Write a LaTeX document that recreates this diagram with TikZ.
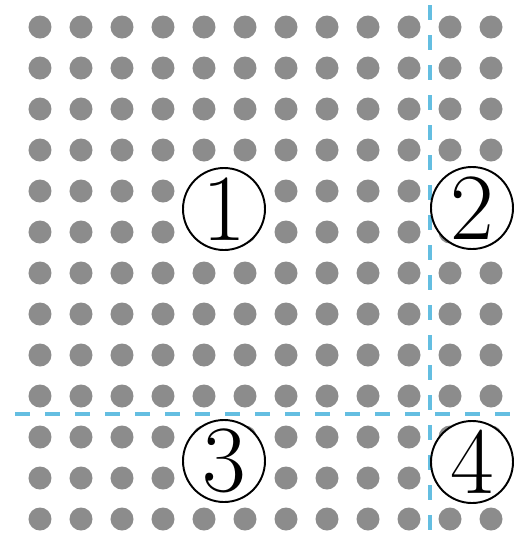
\documentclass[tikz,border=0pt]{standalone}
\usepackage{tikz}
\definecolor{dotgray}{RGB}{140,140,140}
\definecolor{cutblue}{RGB}{100,190,225}
\tikzset{
  numcirc/.style={circle,draw=black,line width=0.55pt,fill=white,minimum size=0.82cm,inner sep=0pt,font=\fontsize{27}{27}\selectfont},
  cutline/.style={draw=cutblue,line width=1.2pt,dash pattern=on 0.15cm off 0.15cm}
}
\begin{document}
\begin{tikzpicture}[line cap=butt,line join=round]
  \useasboundingbox (0,0) rectangle (5.18,-5.42);
  % dot grid, 12 columns x 13 rows
  \foreach \i in {0,...,11}
    \foreach \j in {0,...,12}
      \fill[dotgray] (0.40+0.41*\i,-0.27-0.41*\j) circle (0.115);
  % cut lines
  \coordinate (vtop) at (4.30,-0.05);
  \coordinate (vbot) at (4.30,-5.42);
  \coordinate (hleft) at (0.15,-4.14);
  \coordinate (hright) at (5.18,-4.14);
  \draw[cutline] (vtop) -- (vbot);
  \draw[cutline] (hleft) -- (hright);
  % circled parts
  \node[numcirc] (p1) at (2.24,-2.09) {1};
  \node[numcirc] (p2) at (4.72,-2.08) {2};
  \node[numcirc] (p3) at (2.24,-4.61) {3};
  \node[numcirc] (p4) at (4.72,-4.62) {4};
\end{tikzpicture}
\end{document}
